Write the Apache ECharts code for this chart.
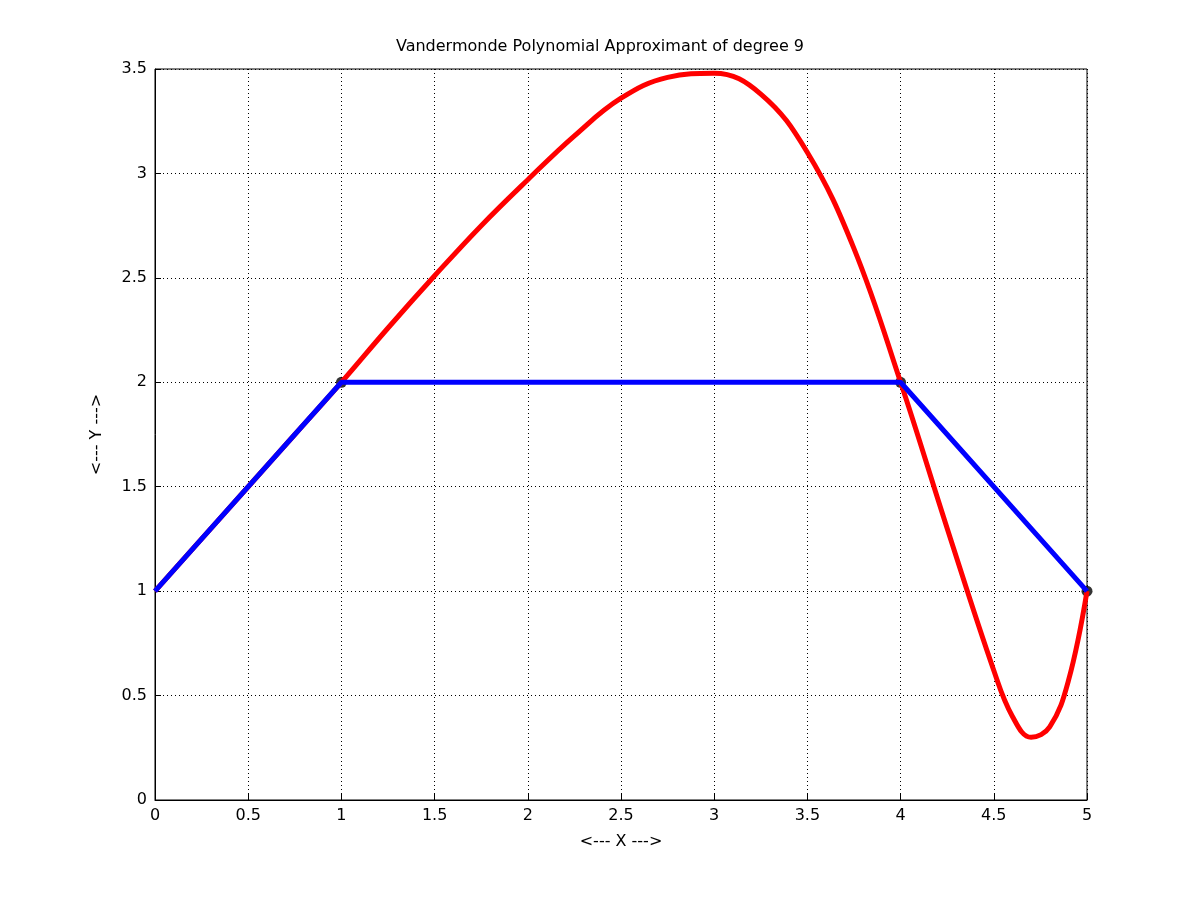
<!DOCTYPE html>
<html>
<head>
<meta charset="utf-8">
<script src="https://cdn.jsdelivr.net/npm/echarts@6/dist/echarts.min.js"></script>
<style>html,body{margin:0;background:#fff}#c{width:1200px;height:900px}</style>
</head>
<body>
<div id="c"></div>
<script>
// red: degree 9 approximant
const redX = [0, 0.25, 0.5, 0.75, 1, 1.25, 1.5, 1.75, 2, 2.25, 2.5, 2.75, 3, 3.25, 3.5, 3.75, 4, 4.25, 4.5, 4.6, 4.7, 4.8, 4.9, 5];
const redY = [1, 1.25, 1.5, 1.75, 2, 2.26, 2.51, 2.75, 2.97, 3.18, 3.36, 3.46, 3.48, 3.38, 3.1, 2.64, 2.0, 1.3, 0.62, 0.4, 0.3, 0.35, 0.57, 1];
// blue: piecewise linear through data points
const blueX = [0, 1, 4, 5];
const blueY = [1, 2, 2, 1];
// black: nodes
const dotX = [1, 4, 5];
const dotY = [2, 2, 1];

const pairs = (xs, ys) => xs.map((x, i) => [x, ys[i]]);
const font = 'DejaVu Sans';
const axisCommon = {
  axisLine: { show: true, lineStyle: { color: '#000' } },
  axisTick: { inside: true, length: 6, lineStyle: { color: '#000' } },
  axisLabel: { color: '#000', fontSize: 16, fontFamily: font, margin: 8 },
  splitLine: { show: true, lineStyle: { color: '#000', type: [1, 3], width: 1 } },
  nameTextStyle: { color: '#000', fontSize: 16, fontFamily: font }
};
const chart = echarts.init(document.getElementById('c'));
chart.setOption({
  animation: false,
  title: { text: 'Vandermonde Polynomial Approximant of degree 9', left: 'center', top: 34,
    textStyle: { color: '#000', fontSize: 16, fontWeight: 'normal', fontFamily: font } },
  grid: { left: 155, right: 113, top: 69, bottom: 100, show: true, borderColor: '#000', borderWidth: 1 },
  xAxis: Object.assign({ type: 'value', min: 0, max: 5, interval: 0.5, name: '<--- X --->',
    nameLocation: 'middle', nameGap: 34 }, axisCommon),
  yAxis: Object.assign({ type: 'value', min: 0, max: 3.5, interval: 0.5, name: '<--- Y --->',
    nameLocation: 'middle', nameGap: 50 }, axisCommon),
  series: [
    { type: 'line', data: pairs(redX, redY), smooth: 0.4, showSymbol: false,
      lineStyle: { color: '#ff0000', width: 5 } },
    { type: 'line', data: pairs(blueX, blueY), showSymbol: false,
      lineStyle: { color: '#0000ff', width: 5 } },
    { type: 'scatter', data: pairs(dotX, dotY), symbolSize: 11, itemStyle: { color: '#000' } }
  ]
});
</script>
</body>
</html>
